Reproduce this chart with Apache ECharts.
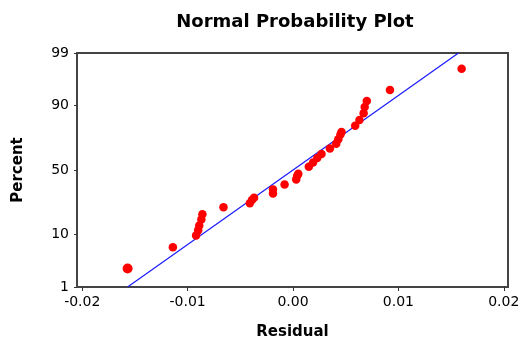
<!DOCTYPE html>
<html>
<head>
<meta charset="utf-8">
<script src="https://cdn.jsdelivr.net/npm/echarts@6/dist/echarts.min.js"></script>
<style>
  html, body { margin: 0; padding: 0; background: #fff; }
  #chart { width: 518px; height: 341px; }
</style>
</head>
<body>
<div id="chart"></div>
<script>
// residuals and their percent positions
const residuals = [
  -0.0157, -0.0114, -0.0092, -0.0090, -0.0089, -0.0087, -0.0086, -0.0066,
  -0.0041, -0.0039, -0.0037, -0.0019, -0.0019, -0.0008, 0.0003, 0.0004,
  0.0005, 0.0015, 0.0019, 0.0023, 0.0027, 0.0035, 0.0041, 0.0043,
  0.0045, 0.0046, 0.0059, 0.0063, 0.0067, 0.0068, 0.0070, 0.0092, 0.0160
];
const percents = [
  2.5, 6.2, 9.6, 11.5, 13.5, 16.2, 19.0, 23.0,
  25.5, 27.5, 29.0, 32.0, 35.0, 38.7, 42.5, 45.5,
  47.0, 52.5, 56.0, 59.5, 62.5, 66.5, 70.0, 73.0,
  76.0, 77.5, 81.0, 84.0, 87.0, 89.5, 91.5, 94.4, 97.8
];
// fitted line end points
const fitResidual = [-0.0157, 0.0157];
const fitPercent = [1, 99];
const percentTicks = [1, 10, 50, 90, 99];
const residualTicks = [-0.02, -0.01, 0.00, 0.01, 0.02];

// inverse normal cdf (Acklam)
function probit(p) {
  const a = [-39.6968302866538, 220.946098424521, -275.928510446969, 138.357751867269, -30.6647980661472, 2.50662827745924];
  const b = [-54.4760987982241, 161.585836858041, -155.698979859887, 66.8013118877197, -13.2806815528857];
  const c = [-0.00778489400243029, -0.322396458041136, -2.40075827716184, -2.54973253934373, 4.37466414146497, 2.93816398269878];
  const d = [0.00778469570904146, 0.32246712907004, 2.445134137143, 3.75440866190742];
  const pl = 0.02425;
  let q, r;
  if (p < pl) {
    q = Math.sqrt(-2 * Math.log(p));
    return (((((c[0] * q + c[1]) * q + c[2]) * q + c[3]) * q + c[4]) * q + c[5]) /
      ((((d[0] * q + d[1]) * q + d[2]) * q + d[3]) * q + 1);
  }
  if (p > 1 - pl) {
    q = Math.sqrt(-2 * Math.log(1 - p));
    return -(((((c[0] * q + c[1]) * q + c[2]) * q + c[3]) * q + c[4]) * q + c[5]) /
      ((((d[0] * q + d[1]) * q + d[2]) * q + d[3]) * q + 1);
  }
  q = p - 0.5;
  r = q * q;
  return (((((a[0] * r + a[1]) * r + a[2]) * r + a[3]) * r + a[4]) * r + a[5]) * q /
    (((((b[0] * r + b[1]) * r + b[2]) * r + b[3]) * r + b[4]) * r + 1);
}
const z = (pct) => probit(pct / 100);
const zTicks = percentTicks.map(z);

const chart = echarts.init(document.getElementById('chart'));
const option = {
  animation: false,
  title: {
    text: 'Normal Probability Plot',
    left: 290,
    textAlign: 'center',
    top: 8,
    textStyle: { fontFamily: 'DejaVu Sans', fontSize: 18, fontWeight: 'bold', color: '#000' },
  },
  grid: {
    left: 77,
    right: 10,
    top: 53,
    bottom: 54,
    outerBoundsMode: 'none',
    show: true,
    borderColor: '#444',
    borderWidth: 2,
  },
  xAxis: {
    type: 'value',
    min: -0.0205,
    max: 0.0204,
    name: 'Residual',
    nameLocation: 'middle',
    nameGap: 38,
    nameTextStyle: { fontFamily: 'DejaVu Sans', fontSize: 15, fontWeight: 'bold', color: '#000' },
    axisLine: { show: false, onZero: false },
    axisTick: { show: true, inside: false, customValues: residualTicks, length: 4, lineStyle: { color: '#333' } },
    axisLabel: {
      customValues: residualTicks,
      fontFamily: 'DejaVu Sans',
      fontSize: 14,
      color: '#000',
      margin: 8,
      formatter: (v) => v.toFixed(2),
    },
    splitLine: { show: false },
  },
  yAxis: {
    type: 'value',
    min: z(1),
    max: z(99),
    name: 'Percent',
    nameLocation: 'middle',
    nameGap: 51,
    nameTextStyle: { fontFamily: 'DejaVu Sans', fontSize: 15, fontWeight: 'bold', color: '#000' },
    axisLine: { show: false, onZero: false },
    axisTick: { show: true, inside: false, customValues: zTicks, length: 3, lineStyle: { color: '#333' } },
    axisLabel: {
      customValues: zTicks,
      fontFamily: 'DejaVu Sans',
      fontSize: 14,
      color: '#000',
      margin: 8,
      formatter: (v) => {
        const i = zTicks.findIndex((t) => Math.abs(t - v) < 1e-6);
        return i >= 0 ? String(percentTicks[i]) : '';
      },
    },
    splitLine: { show: false },
  },
  series: [
    {
      type: 'line',
      data: fitResidual.map((x, i) => [x, z(fitPercent[i])]),
      symbol: 'none',
      lineStyle: { color: '#1a1aff', width: 1.2 },
      z: 1,
    },
    {
      type: 'scatter',
      data: residuals.map((x, i) => [x, z(percents[i])]),
      symbol: 'circle',
      symbolSize: (v, p) => (p.dataIndex === 0 ? 10 : 8.5),
      itemStyle: { color: '#ff0000', opacity: 1 },
      z: 2,
    },
  ],
};
chart.setOption(option);
</script>
</body>
</html>
